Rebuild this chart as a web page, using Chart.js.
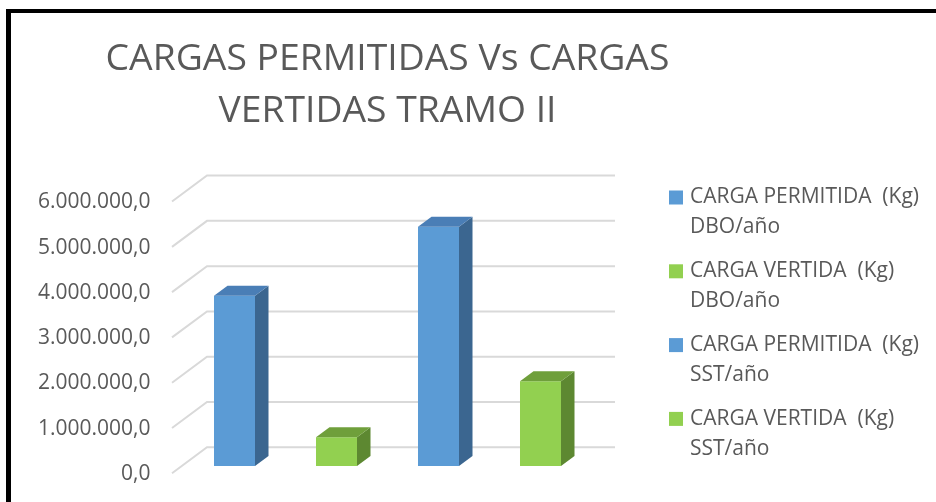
<!DOCTYPE html>
<html>
<head>
<meta charset="utf-8">
<script src="https://cdn.jsdelivr.net/npm/chart.js@4.4.0/dist/chart.umd.min.js"></script>
<style>
  html, body { margin: 0; padding: 0; background: #fff; }
  #marco { position: relative; width: 936px; height: 502px; overflow: hidden; }
  #borde { position: absolute; left: 6px; top: 9px; right: -20px; bottom: -20px;
           border-top: 4px solid #000; border-left: 5px solid #000; pointer-events: none; }
</style>
</head>
<body>
<div id="marco">
  <canvas id="grafico" width="936" height="502"></canvas>
  <div id="borde"></div>
</div>
<script>
// datos
const categorias = ['TRAMO II'];
const nombresSeries = [
  ['CARGA PERMITIDA  (Kg)', 'DBO/año'],
  ['CARGA VERTIDA  (Kg)', 'DBO/año'],
  ['CARGA PERMITIDA  (Kg)', 'SST/año'],
  ['CARGA VERTIDA  (Kg)', 'SST/año']
];
const cargaPermitidaDBO = [3760000];
const cargaVertidaDBO = [632000];
const cargaPermitidaSST = [5283000];
const cargaVertidaSST = [1871000];
const etiquetasEje = ['0,0', '1.000.000,0', '2.000.000,0', '3.000.000,0',
  '4.000.000,0', '5.000.000,0', '6.000.000,0'];

// colores: frente, tapa y lado de cada barra
const colorFrente = ['#5B9BD5', '#92D050', '#5B9BD5', '#92D050'];
const colorTapa = ['#4A7EB6', '#6F9F3B', '#4A7EB6', '#6F9F3B'];
const colorLado = ['#3B6690', '#5D8831', '#3B6690', '#5D8831'];
const colorTexto = '#595959';

// desplazamiento de profundidad (pseudo 3D)
const PROF = { dx: 13.5, dy: -10 };
const FRENTE = { dx: -10, dy: 7.3 };
const FONDO = { dx: 25, dy: -18.7 };

const fondo3d = {
  id: 'fondo3d',
  beforeDatasetsDraw(chart) {
    const { ctx } = chart;
    const ys = chart.scales.y;
    const centro = chart.scales.x.getPixelForValue(0);
    const izq = centro - 205.5;
    const der = centro + 202.5;
    ctx.save();
    ctx.strokeStyle = '#d9d9d9';
    ctx.lineWidth = 2;
    ys.ticks.forEach(t => {
      const py = ys.getPixelForValue(t.value);
      ctx.beginPath();
      ctx.moveTo(izq + FRENTE.dx, py + FRENTE.dy);
      ctx.lineTo(izq + FONDO.dx, py + FONDO.dy);
      ctx.lineTo(der + FONDO.dx, py + FONDO.dy);
      ctx.stroke();
    });
    ctx.restore();
  },
  afterDatasetsDraw(chart) {
    const { ctx } = chart;
    ctx.save();
    chart.data.datasets.forEach((ds, i) => {
      chart.getDatasetMeta(i).data.forEach(bar => {
        const { x, y, base, width } = bar.getProps(['x', 'y', 'base', 'width'], true);
        const l = x - width / 2, r = x + width / 2;
        // lado
        ctx.fillStyle = colorLado[i];
        ctx.beginPath();
        ctx.moveTo(r, y);
        ctx.lineTo(r + PROF.dx, y + PROF.dy);
        ctx.lineTo(r + PROF.dx, base + PROF.dy);
        ctx.lineTo(r, base);
        ctx.closePath();
        ctx.fill();
        // tapa
        ctx.fillStyle = colorTapa[i];
        ctx.beginPath();
        ctx.moveTo(l, y);
        ctx.lineTo(l + PROF.dx, y + PROF.dy);
        ctx.lineTo(r + PROF.dx, y + PROF.dy);
        ctx.lineTo(r, y);
        ctx.closePath();
        ctx.fill();
      });
    });
    ctx.restore();
  }
};

const leyenda = {
  id: 'leyenda',
  afterDraw(chart) {
    const { ctx } = chart;
    ctx.save();
    ctx.font = '21px "Open Sans"';
    ctx.textBaseline = 'middle';
    ctx.textAlign = 'left';
    chart.data.datasets.forEach((ds, i) => {
      const y0 = 197.5 + i * 73.8;
      ctx.fillStyle = ds.backgroundColor;
      ctx.fillRect(669, y0 - 7, 14, 14);
      ctx.fillStyle = colorTexto;
      nombresSeries[i].forEach((linea, j) => ctx.fillText(linea, 690, y0 + j * 30));
    });
    ctx.restore();
  }
};

const series = [cargaPermitidaDBO, cargaVertidaDBO, cargaPermitidaSST, cargaVertidaSST];

new Chart(document.getElementById('grafico'), {
  type: 'bar',
  data: {
    labels: categorias,
    datasets: series.map((valores, i) => ({
      label: nombresSeries[i].join(' '),
      data: valores,
      backgroundColor: colorFrente[i],
      borderWidth: 0,
      categoryPercentage: 408 / 701,
      barPercentage: 0.402
    }))
  },
  options: {
    responsive: false,
    animation: false,
    layout: { padding: { top: 0, left: 0, right: 198, bottom: 36 } },
    plugins: {
      legend: { display: false },
      tooltip: { enabled: false },
      title: {
        display: true,
        fullSize: false,
        text: ['CARGAS PERMITIDAS Vs CARGAS', 'VERTIDAS TRAMO II'],
        color: colorTexto,
        font: { family: 'Open Sans', size: 37.3, weight: '400', lineHeight: 1.4 },
        padding: { top: 33.3, bottom: 56.5 }
      }
    },
    scales: {
      x: { display: false },
      y: {
        min: 0,
        max: 6000000,
        afterFit(s) { s.width = 37; },
        ticks: {
          stepSize: 1000000,
          mirror: true,
          crossAlign: 'far',
          padding: 1,
          labelOffset: 8,
          color: colorTexto,
          font: { family: 'Open Sans', size: 21 },
          callback: (v, i) => etiquetasEje[i]
        },
        grid: { display: false, drawTicks: false },
        border: { display: false }
      }
    }
  },
  plugins: [fondo3d, leyenda]
});
</script>
</body>
</html>
